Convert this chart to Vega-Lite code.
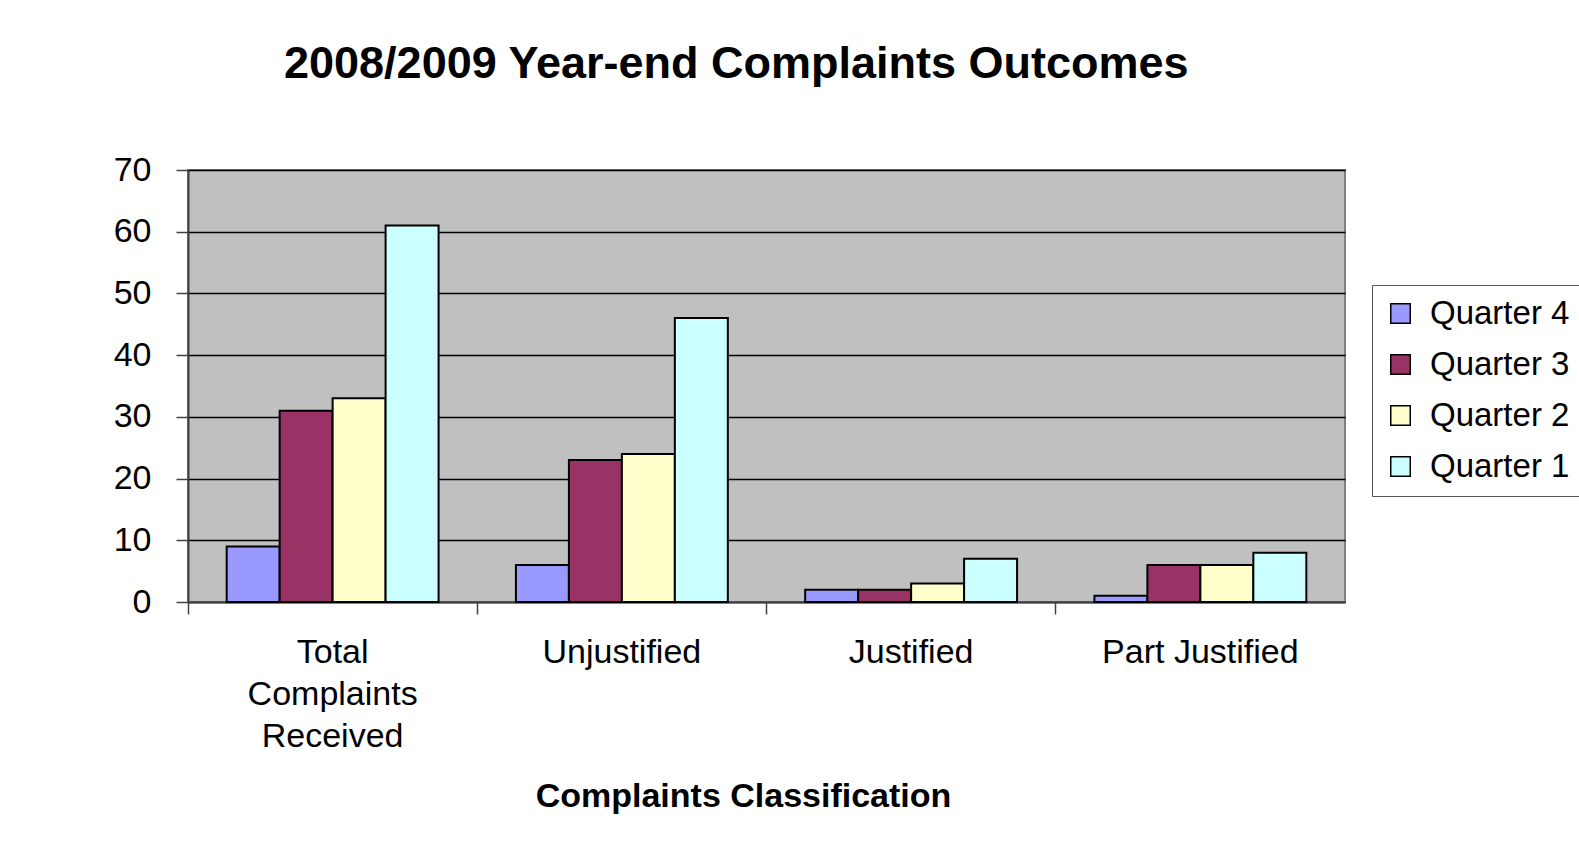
{
  "$schema": "https://vega.github.io/schema/vega-lite/v6.json",
  "autosize": {"type": "none"},
  "padding": {"left": 188, "top": 170, "right": 234, "bottom": 241},
  "width": 1157,
  "height": 432,
  "background": "white",
  "title": {
    "text": "2008/2009 Year-end Complaints Outcomes",
    "font": "Liberation Sans",
    "fontSize": 45,
    "fontWeight": "bold",
    "color": "black",
    "anchor": "start",
    "frame": "group",
    "dx": 96,
    "offset": 66
  },
  "data": {
    "values": [
      {"category": "Total Complaints Received", "quarter": "Quarter 4", "value": 9},
      {"category": "Total Complaints Received", "quarter": "Quarter 3", "value": 31},
      {"category": "Total Complaints Received", "quarter": "Quarter 2", "value": 33},
      {"category": "Total Complaints Received", "quarter": "Quarter 1", "value": 61},
      {"category": "Unjustified", "quarter": "Quarter 4", "value": 6},
      {"category": "Unjustified", "quarter": "Quarter 3", "value": 23},
      {"category": "Unjustified", "quarter": "Quarter 2", "value": 24},
      {"category": "Unjustified", "quarter": "Quarter 1", "value": 46},
      {"category": "Justified", "quarter": "Quarter 4", "value": 2},
      {"category": "Justified", "quarter": "Quarter 3", "value": 2},
      {"category": "Justified", "quarter": "Quarter 2", "value": 3},
      {"category": "Justified", "quarter": "Quarter 1", "value": 7},
      {"category": "Part Justified", "quarter": "Quarter 4", "value": 1},
      {"category": "Part Justified", "quarter": "Quarter 3", "value": 6},
      {"category": "Part Justified", "quarter": "Quarter 2", "value": 6},
      {"category": "Part Justified", "quarter": "Quarter 1", "value": 8}
    ]
  },
  "mark": {"type": "bar", "stroke": "black", "strokeWidth": 2},
  "encoding": {
    "x": {
      "field": "category",
      "type": "nominal",
      "sort": ["Total Complaints Received", "Unjustified", "Justified", "Part Justified"],
      "scale": {"paddingInner": 0, "paddingOuter": 0},
      "axis": {
        "title": "Complaints Classification",
        "titleFont": "Liberation Sans",
        "titleFontSize": 34,
        "titleFontWeight": "bold",
        "titleColor": "black",
        "titleX": 555,
        "titlePadding": 26,
        "labelFont": "Liberation Sans",
        "labelFontSize": 34,
        "labelColor": "black",
        "labelAngle": 0,
        "labelLineHeight": 42,
        "labelPadding": 21,
        "labelLimit": 400,
        "labelExpr": "datum.value == 'Total Complaints Received' ? ['Total', 'Complaints', 'Received'] : datum.value",
        "bandPosition": 0,
        "tickSize": 12,
        "tickColor": "#404040",
        "tickWidth": 1.5,
        "domainColor": "#404040",
        "domainWidth": 2,
        "grid": false
      }
    },
    "xOffset": {
      "field": "quarter",
      "type": "nominal",
      "sort": ["Quarter 4", "Quarter 3", "Quarter 2", "Quarter 1"],
      "scale": {"paddingInner": 0, "paddingOuter": 0.73}
    },
    "y": {
      "field": "value",
      "type": "quantitative",
      "scale": {"domain": [0, 70], "nice": false},
      "axis": {
        "title": null,
        "values": [0, 10, 20, 30, 40, 50, 60, 70],
        "labelFont": "Liberation Sans",
        "labelFontSize": 34,
        "labelColor": "black",
        "labelPadding": 25,
        "tickSize": 12,
        "tickColor": "#404040",
        "tickWidth": 1.5,
        "domainColor": "#404040",
        "domainWidth": 2,
        "grid": true,
        "gridColor": "black",
        "gridWidth": 1.5,
        "gridOpacity": 1
      }
    },
    "color": {
      "field": "quarter",
      "type": "nominal",
      "sort": ["Quarter 4", "Quarter 3", "Quarter 2", "Quarter 1"],
      "scale": {
        "domain": ["Quarter 4", "Quarter 3", "Quarter 2", "Quarter 1"],
        "range": ["#9999FF", "#993366", "#FFFFCC", "#CCFFFF"]
      },
      "legend": {
        "title": null,
        "orient": "none",
        "legendX": 1184,
        "legendY": 115,
        "padding": 12,
        "strokeColor": "#555555",
        "fillColor": "white",
        "symbolType": "square",
        "symbolSize": 380,
        "symbolStrokeColor": "black",
        "symbolStrokeWidth": 1.5,
        "symbolOpacity": 1,
        "labelFont": "Liberation Sans",
        "labelFontSize": 33,
        "labelColor": "black",
        "labelOffset": 13,
        "rowPadding": 17
      }
    }
  },
  "config": {
    "view": {"fill": "#C0C0C0", "stroke": "#808080", "strokeWidth": 2}
  }
}
